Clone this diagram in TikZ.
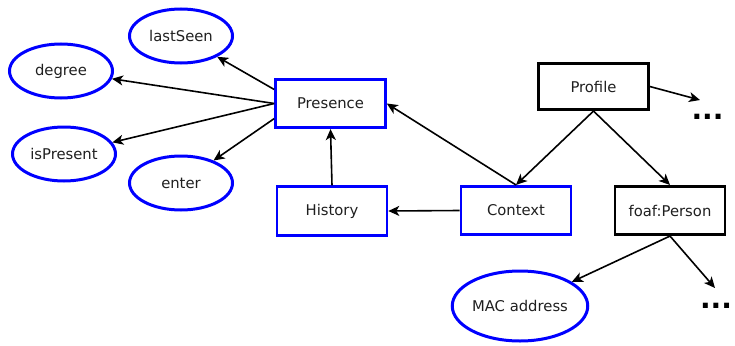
\documentclass[tikz,border=0pt]{standalone}
\usepackage{fontspec}
\setmainfont{DejaVu Sans}
\usetikzlibrary{shapes.geometric,arrows.meta}
\begin{document}
\begin{tikzpicture}[x=1pt,y=-1pt,
  every node/.style={font=\fontsize{14.8}{17}\selectfont, text=black!88},
  bluebox/.style={draw=blue, line width=2.6pt, rectangle, minimum width=110pt, minimum height=48.5pt, inner sep=0pt},
  blackbox/.style={draw=black, line width=2.6pt, rectangle, minimum width=110pt, minimum height=48.5pt, inner sep=0pt},
  oval/.style={draw=blue, ellipse, line width=3pt, minimum width=103pt, minimum height=54pt, inner sep=0pt},
  edge/.style={line width=1.6pt, -{Stealth[length=11pt,width=10pt,inset=3pt]}},
  dots/.style={font=\fontsize{28}{30}\selectfont\bfseries, text=black, inner sep=0pt}
]
\useasboundingbox (0,0) rectangle (735,345);
\node[oval] (last) at (181,36) {lastSeen};
\node[oval] (deg) at (61,71) {degree};
\node[oval] (isp) at (64,154) {isPresent};
\node[oval] (ent) at (181,183) {enter};
\node[bluebox] (pres) at (330.5,103.5) {Presence};
\node[bluebox] (hist) at (332,211) {History};
\node[bluebox] (cont) at (516,210.5) {Context};
\node[blackbox, minimum height=46.5pt] (prof) at (593.5,86.5) {Profile};
\node[blackbox] (foaf) at (670,210.5) {foaf:Person};
\node[oval, minimum width=125pt, minimum height=70pt] (mac) at (520,306) {MAC address};
\node[dots] (dots1) at (707.5,117) {...};
\node[dots] (dots2) at (716,306) {...};
\coordinate (t1) at (700,100);
\coordinate (t2) at (715,288);
\draw[edge] (pres.166) -- (last);
\draw[edge] (pres.west) -- (deg);
\draw[edge] (pres.west) -- (isp);
\draw[edge] (pres.195) -- (ent);
\draw[edge] (hist.north) -- (pres.south);
\draw[edge] (cont.west) -- (hist.east);
\draw[edge] (cont.north) -- (pres.east);
\draw[edge] (prof.south) -- (cont.north);
\draw[edge] (prof.south) -- (foaf.north);
\draw[edge] (prof.east) -- (t1);
\draw[edge] (foaf.south) -- (mac);
\draw[edge] (foaf.south) -- (t2);
\end{tikzpicture}
\end{document}
